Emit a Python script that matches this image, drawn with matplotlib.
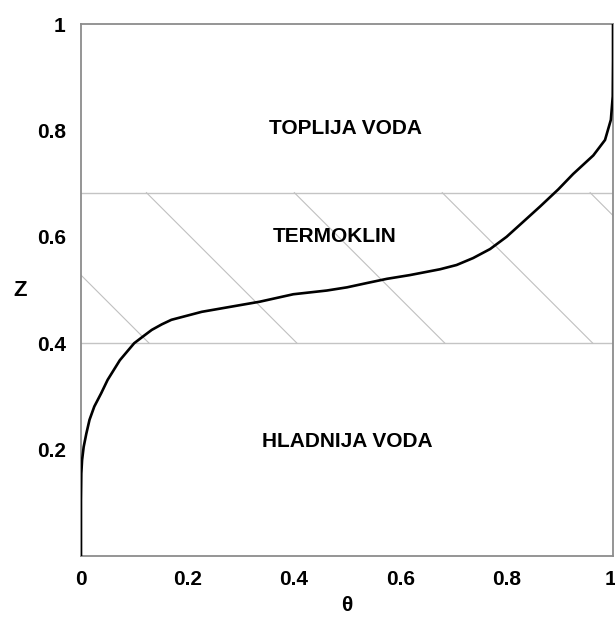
import numpy as np
import matplotlib.pyplot as plt
from matplotlib.transforms import ScaledTranslation

# temperature profile (theta) vs depth (Z)
theta = [0.0, 0.0, 0.0006, 0.002, 0.005, 0.01, 0.016, 0.025, 0.038, 0.05,
         0.073, 0.089, 0.10, 0.117, 0.133, 0.152, 0.17, 0.227, 0.29, 0.336,
         0.399, 0.462, 0.50, 0.537, 0.575, 0.618, 0.675, 0.706, 0.737, 0.769,
         0.80, 0.831, 0.863, 0.897, 0.925, 0.963, 0.985, 0.996, 0.9995,
         1.0, 1.0]
z = [0.0, 0.105, 0.155, 0.18, 0.205, 0.23, 0.256, 0.281, 0.306, 0.331,
     0.368, 0.387, 0.40, 0.413, 0.425, 0.4355, 0.444, 0.459, 0.47, 0.478,
     0.492, 0.499, 0.505, 0.513, 0.521, 0.528, 0.539, 0.547, 0.56, 0.577,
     0.60, 0.628, 0.657, 0.689, 0.718, 0.753, 0.782, 0.82, 0.864,
     0.93, 1.0]

band_lo, band_hi = 0.40, 0.683
regions = ["TOPLIJA VODA", "TERMOKLIN", "HLADNIJA VODA"]
region_pos = [(0.498, 0.803), (0.476, 0.60), (0.50, 0.216)]

xticks = [0, 0.2, 0.4, 0.6, 0.8, 1]
xticklabels = ["0", "0.2", "0.4", "0.6", "0.8", "1"]
yticks = [0.2, 0.4, 0.6, 0.8, 1]
yticklabels = ["0.2", "0.4", "0.6", "0.8", "1"]

plt.rcParams['font.family'] = ['Liberation Sans', 'DejaVu Sans']
plt.rcParams['font.weight'] = 'bold'
fs = 15

fig = plt.figure(figsize=(6.15, 6.17), dpi=100)
ax = fig.add_axes([81 / 615, 61 / 617, 532 / 615, 532 / 617])

# band borders
ax.axhline(band_lo, color='#c4c4c4', lw=1.0, zorder=1)
ax.axhline(band_hi, color='#c4c4c4', lw=1.0, zorder=1)

# sparse diagonal hatch inside thermocline band
h = band_hi - band_lo
spacing = 0.278
for k in range(-1, 6):
    xb = 0.128 + k * spacing
    ax.plot([xb - h, xb], [band_hi, band_lo], color='#c0c0c0', lw=0.8, zorder=1)

ax.plot(theta, z, color='black', lw=1.9, solid_joinstyle='round', zorder=3)

for txt, (tx, ty) in zip(regions, region_pos):
    ax.text(tx, ty, txt, ha='center', va='center', fontsize=fs,
            fontweight='bold', zorder=4)

ax.set_xlim(0, 1)
ax.set_ylim(0, 1)
ax.set_xticks(xticks)
ax.set_xticklabels(xticklabels)
ax.set_yticks(yticks)
ax.set_yticklabels(yticklabels)
ax.tick_params(length=0, labelsize=fs, pad=11)
ax.tick_params(axis='x', pad=10)
for s in ax.spines.values():
    s.set_color('#8c8c8c')
    s.set_linewidth(1.3)

# last x label sits right at the edge; nudge it in a little
last = ax.get_xticklabels()[-1]
last.set_transform(last.get_transform() + ScaledTranslation(-3 / 100, 0, fig.dpi_scale_trans))

ax.set_xlabel("θ", fontsize=fs, fontweight='bold', labelpad=5)
ax.set_ylabel("Z", fontsize=fs + 1, fontweight='bold', rotation=0, labelpad=12,
              va='center')

fig.savefig("out.png", dpi=100)
plt.close(fig)
